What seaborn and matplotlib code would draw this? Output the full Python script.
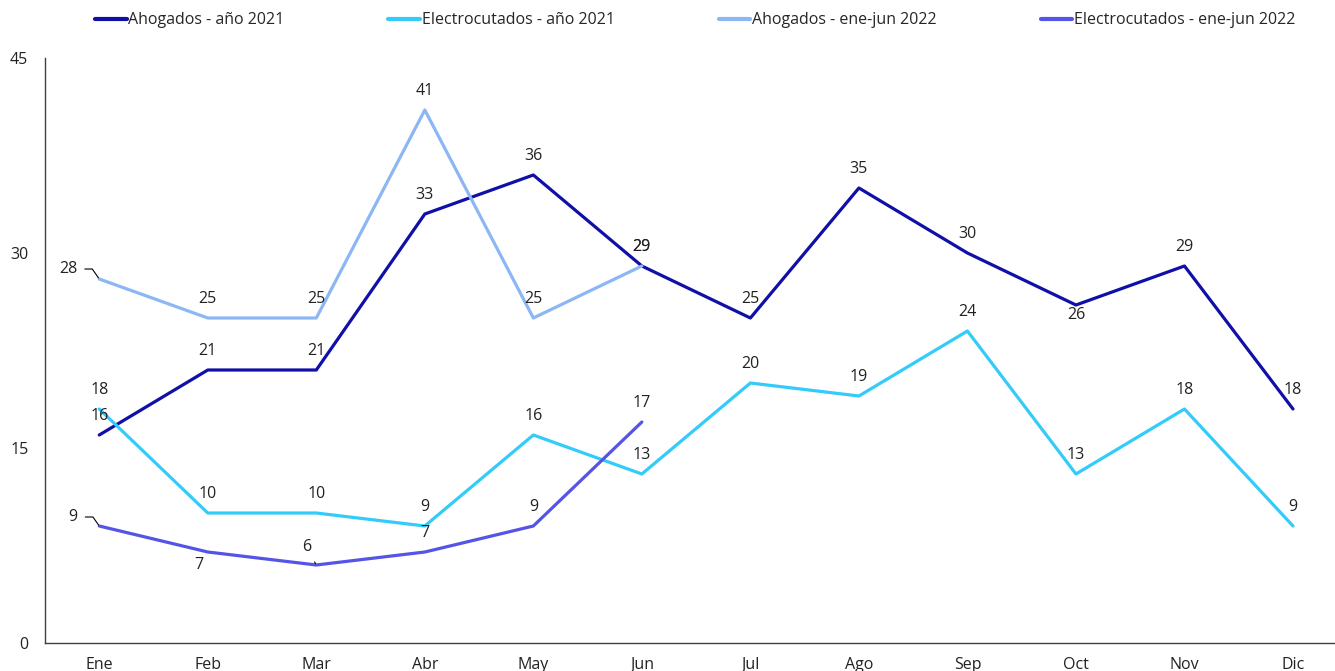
import pandas as pd
import numpy as np
import matplotlib.pyplot as plt
import seaborn as sns

months = ["Ene", "Feb", "Mar", "Abr", "May", "Jun", "Jul", "Ago", "Sep", "Oct", "Nov", "Dic"]
ahogados_2021 = [16, 21, 21, 33, 36, 29, 25, 35, 30, 26, 29, 18]
electro_2021 = [18, 10, 10, 9, 16, 13, 20, 19, 24, 13, 18, 9]
ahogados_2022 = [28, 25, 25, 41, 25, 29]
electro_2022 = [9, 7, 6, 7, 9, 17]

series_names = ["Ahogados - año 2021", "Electrocutados - año 2021",
                "Ahogados - ene-jun 2022", "Electrocutados - ene-jun 2022"]
colors = ["#1010A8", "#33CCFA", "#8CB6F4", "#5454E6"]

# long-form table for seaborn
rows = []
for name, vals in zip(series_names, [ahogados_2021, electro_2021, ahogados_2022, electro_2022]):
    for i, v in enumerate(vals):
        rows.append({"serie": name, "mes": i, "valor": v})
df = pd.DataFrame(rows)

sns.set_style("white")
plt.rcParams['font.family'] = ['Open Sans', 'DejaVu Sans']

fig = plt.figure(figsize=(13.35, 6.71), dpi=100)
ax = fig.add_axes([45 / 1335, 1 - 643 / 671, 1 - 45 / 1335, (643 - 58) / 671])

sns.lineplot(data=df, x="mes", y="valor", hue="serie", hue_order=series_names,
             palette=colors, linewidth=2.3, ax=ax, legend=False)

# data labels: default above the point, a few moved (dx, dy, leader style)
special = {
    (0, 9): (0, -10, None),
    (2, 0): (-31, 10, "angle,angleA=0,angleB=125"),
    (3, 0): (-26, 9, "angle,angleA=0,angleB=125"),
    (3, 1): (-9, -13, None),
    (3, 2): (-10, 18, "arc3,rad=0"),
}
all_vals = [ahogados_2021, electro_2021, ahogados_2022, electro_2022]
for s, vals in enumerate(all_vals):
    for i, v in enumerate(vals):
        dx, dy, lead = special.get((s, i), (0, 19, None))
        kw = {}
        if lead:
            kw["arrowprops"] = dict(arrowstyle="-", color="black", lw=0.8,
                                    shrinkA=3, shrinkB=1, connectionstyle=lead)
        ax.annotate(str(v), (i, v), xytext=(dx, dy), textcoords="offset pixels",
                    ha="center", va="center", fontsize=11.5, color="#222222", **kw)

ax.set_xlim(-0.5, 11 + 42 / 108.5)
ax.set_ylim(0, 45)
ax.set_yticks([0, 15, 30, 45])
ax.set_xticks(range(len(months)))
ax.set_xticklabels(months)
ax.tick_params(axis="both", length=0, labelsize=11.5, colors="#222222")
ax.tick_params(axis="x", pad=10)
ax.tick_params(axis="y", pad=12)
ax.set_xlabel("")
ax.set_ylabel("")
for side in ["top", "right"]:
    ax.spines[side].set_visible(False)
for side in ["left", "bottom"]:
    ax.spines[side].set_color("#404040")
    ax.spines[side].set_linewidth(1.0)

handles = [plt.Line2D([], [], color=c, lw=3) for c in colors]
fig.legend(handles, series_names, loc="center", bbox_to_anchor=(0.5206, 0.97), ncol=4,
           frameon=False, fontsize=11.5, handlelength=2.0, handletextpad=0.1,
           columnspacing=6.5)

fig.savefig("out.png", dpi=100)
